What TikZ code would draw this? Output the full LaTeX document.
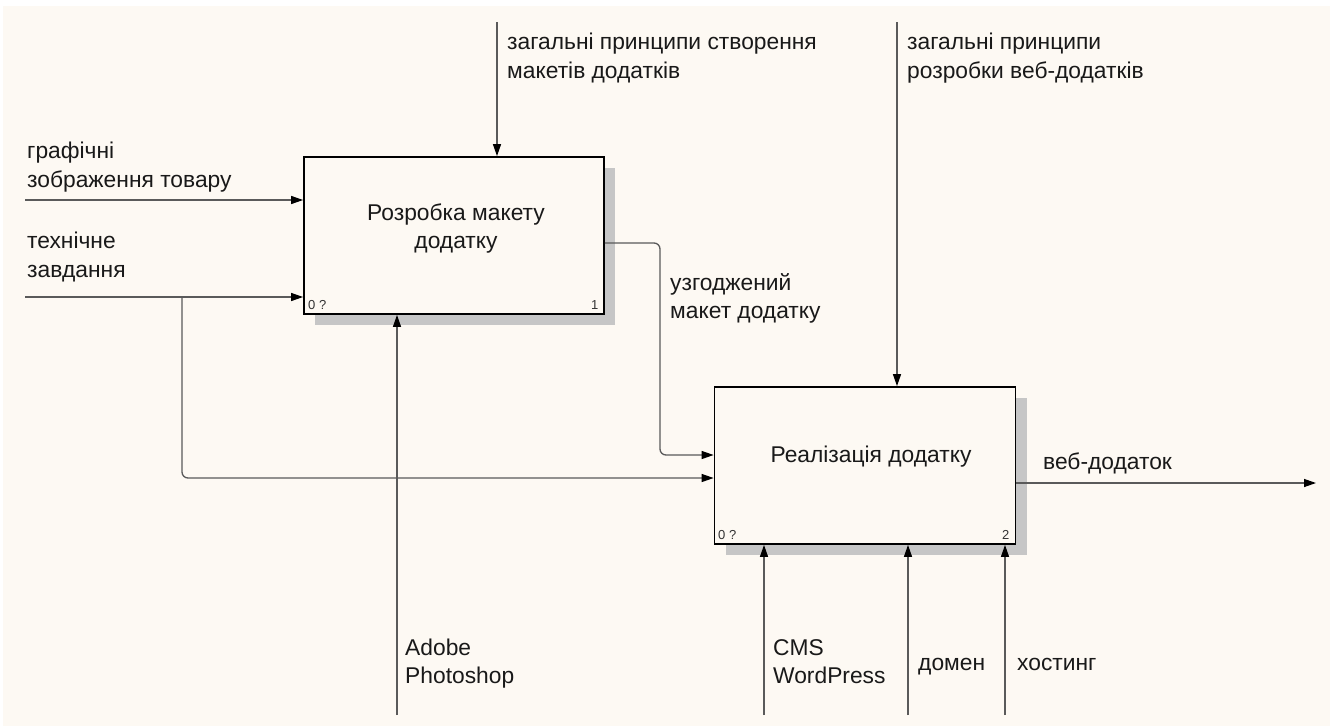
\documentclass[tikz,border=0pt]{standalone}
\usepackage{fontspec}
\setmainfont{Liberation Sans}
\usetikzlibrary{arrows.meta}
\definecolor{cream}{HTML}{FDF9F3}
\definecolor{linec}{HTML}{5A5A5A}
\tikzset{
  procbox/.style={draw=black, line width=1.8pt, fill=cream, minimum width=300pt, minimum height=157pt, inner sep=0pt},
  shadowbox/.style={fill=gray!45, draw=none, minimum width=300pt, minimum height=157pt, inner sep=0pt},
  arr/.style={draw=linec, line width=1.3pt, rounded corners=6pt, -{Triangle[length=12pt,width=8pt,color=black]}},
  lbl/.style={anchor=base west, inner sep=0pt, font=\fontsize{22.8}{28}\selectfont, text=black!90},
  boxtxt/.style={anchor=base, inner sep=0pt, font=\fontsize{22.8}{28}\selectfont, text=black!90, align=center},
  small/.style={anchor=base west, inner sep=0pt, font=\fontsize{13}{15}\selectfont, text=black!80}
}
\begin{document}
\begin{tikzpicture}[x=1pt,y=-1pt]
\useasboundingbox (0,0) rectangle (1336,726);
\fill[white] (0,0) rectangle (1336,726);
\fill[cream] (3,6) rectangle (1330,726);

% shadows
\node[shadowbox] (s1) at (465,246.5) {};
\node[shadowbox, minimum width=301pt] (s2) at (876,476.5) {};
% boxes
\node[procbox] (b1) at (454,235.5) {};
\node[procbox, minimum width=301pt] (b2) at (865,465.5) {};

\node[boxtxt] (t1a) at (456,220) {Розробка макету};
\node[boxtxt] (t1b) at (456,248) {додатку};
\node[boxtxt] (t2) at (871,462) {Реалізація додатку};

\node[small] (n1a) at (308,309) {0 ?};
\node[small] (n1b) at (591,309) {1};
\node[small] (n2a) at (718,539) {0 ?};
\node[small] (n2b) at (1002,539) {2};

% free ends
\coordinate (i1) at (25,200);
\coordinate (i2) at (25,297);
\coordinate (br) at (182,297);
\coordinate (c1) at (497,22);
\coordinate (c2) at (897,22);
\coordinate (m1) at (397,715);
\coordinate (m2) at (764,715);
\coordinate (m3) at (908,715);
\coordinate (m4) at (1005,715);
\coordinate (o2) at (1316,483);
\coordinate (bend) at (660,243);

% inputs
\draw[arr] (i1) -- (i1 -| b1.west);
\draw[arr] (i2) -- (i2 -| b1.west);
\draw[arr] (br) -- (182,478) -- (b2.west |- 0,478);
% box1 output -> box2 input
\draw[arr] (b1.east |- bend) -- (bend) -- (660,455) -- (b2.west |- 0,455);
% controls
\draw[arr] (c1) -- (c1 |- b1.north);
\draw[arr] (c2) -- (c2 |- b2.north);
% mechanisms
\draw[arr] (m1) -- (m1 |- b1.south);
\draw[arr] (m2) -- (m2 |- b2.south);
\draw[arr] (m3) -- (m3 |- b2.south);
\draw[arr] (m4) -- (m4 |- b2.south);
% output
\draw[arr] (b2.east |- o2) -- (o2);

% labels
\node[lbl] (l1a) at (27,158) {графічні};
\node[lbl] (l1b) at (27,187) {зображення товару};
\node[lbl] (l2a) at (27,248) {технічне};
\node[lbl] (l2b) at (27,277) {завдання};
\node[lbl] (l3a) at (507,49) {загальні принципи створення};
\node[lbl] (l3b) at (507,78) {макетів додатків};
\node[lbl] (l4a) at (907,49) {загальні принципи};
\node[lbl] (l4b) at (907,78) {розробки веб-додатків};
\node[lbl] (l5a) at (670,290) {узгоджений};
\node[lbl] (l5b) at (670,318) {макет додатку};
\node[lbl] (l6) at (1043,469) {веб-додаток};
\node[lbl] (l7a) at (405,655) {Adobe};
\node[lbl] (l7b) at (405,683) {Photoshop};
\node[lbl] (l8a) at (773,655) {CMS};
\node[lbl] (l8b) at (773,683) {WordPress};
\node[lbl] (l9) at (918,670) {домен};
\node[lbl] (l10) at (1017,670) {хостинг};
\end{tikzpicture}
\end{document}
